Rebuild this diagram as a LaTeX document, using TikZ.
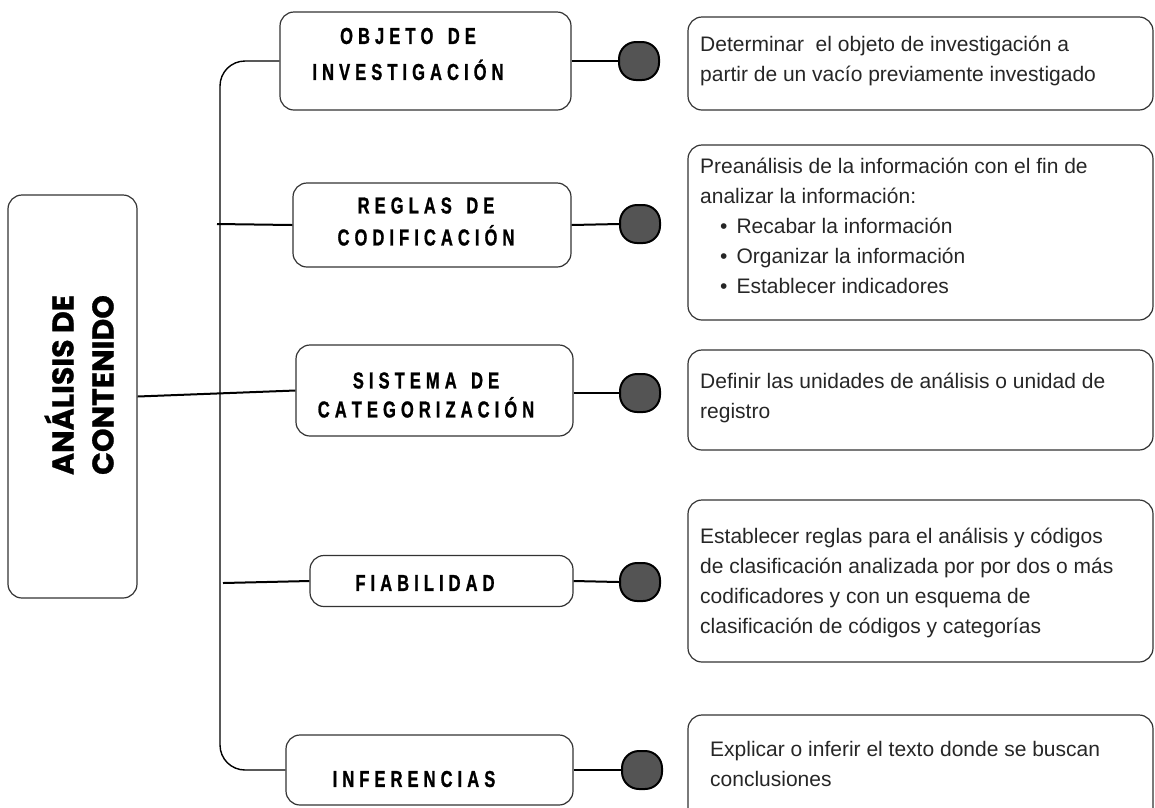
\documentclass[tikz,border=0pt]{standalone}
\usepackage{fontspec}
\usepackage{graphicx}
\setmainfont{Liberation Sans}
\newfontfamily\titlefont[BoldFeatures={FakeBold=1.2}]{Liberation Sans}
\newfontfamily\bigtitle[BoldFeatures={FakeBold=0.8}]{Poppins}
\ExplSyntaxOn
\NewDocumentCommand\spc{m}{\tl_map_inline:nn {#1} {##1\kern7pt}\unkern}
\ExplSyntaxOff
\newcommand\wsp{\hspace*{20pt}}
\newcommand\tl[1]{\scalebox{0.72}[1]{#1}}
\begin{document}
\begin{tikzpicture}[x=1pt,y=1pt,
  box/.style={draw=black!80, line width=1.2pt, rounded corners=14pt, inner sep=0pt},
  ttl/.style={font=\titlefont\bfseries\fontsize{23}{30}\selectfont, align=center, inner sep=0pt, text=black},
  body/.style={font=\fontsize{21}{30}\selectfont, align=left, anchor=north west, inner sep=0pt, text=black!85},
  dot/.style={draw=black, line width=2pt, fill=black!67, rounded corners=17pt, minimum width=40pt, minimum height=38pt, inner sep=0pt},
  conn/.style={line width=2pt, black},
  trunkline/.style={line width=1.4pt, black, rounded corners=25pt}]
\useasboundingbox (0,0) rectangle (1155,-807);

% main box
\node[box, minimum width=129pt, minimum height=403pt] (main) at (72.5,-396.5) {};
\node[rotate=90, font=\bigtitle\bfseries\fontsize{30}{40}\selectfont, align=center, inner sep=0pt] (maintxt) at (79,-385) {ANÁLISIS DE\\CONTENIDO};

% middle boxes
\node[box, minimum width=291pt, minimum height=98pt] (obj) at (425.5,-61) {};
\node[ttl] (objt) at (408,-54) {\tl{\spc{OBJETO}\wsp\spc{DE}}\\[6pt]\tl{\spc{INVESTIGACIÓN}}};

\node[box, minimum width=278pt, minimum height=84pt] (reg) at (432,-225) {};
\node[ttl] (regt) at (426,-221.5) {\tl{\spc{REGLAS}\wsp\spc{DE}}\\[2pt]\tl{\spc{CODIFICACIÓN}}};

\node[box, minimum width=277pt, minimum height=91pt] (sis) at (434.5,-390.5) {};
\node[ttl] (sist) at (426,-395) {\tl{\spc{SISTEMA}\wsp\spc{DE}}\\[-1pt]\tl{\spc{CATEGORIZACIÓN}}};

\node[box, minimum width=263pt, minimum height=51pt] (fia) at (441.5,-581) {};
\node[ttl] (fiat) at (425,-583) {\tl{\spc{FIABILIDAD}}};

\node[box, minimum width=287pt, minimum height=70pt] (inf) at (429.5,-770) {};
\node[ttl] (inft) at (414,-779) {\tl{\spc{INFERENCIAS}}};

% dots
\node[dot] (c1) at (639,-61) {};
\node[dot] (c2) at (640,-224) {};
\node[dot] (c3) at (640,-393) {};
\node[dot] (c4) at (640,-582) {};
\node[dot] (c5) at (642,-770) {};

% right boxes
\node[box, minimum width=465pt, minimum height=93pt] (ra) at (920.5,-63.5) {};
\node[body] (rat) at (700,-36) {Determinar\ \ el objeto de investigación a\\partir de un vacío previamente investigado};

\node[box, minimum width=465pt, minimum height=175pt] (rb) at (920.5,-232.5) {};
\node[body] (rbt) at (700,-158) {Preanálisis de la información con el fin de\\analizar la información:\\
\hspace*{20pt}\textbullet\hspace{9pt}Recabar la información\\
\hspace*{20pt}\textbullet\hspace{9pt}Organizar la información\\
\hspace*{20pt}\textbullet\hspace{9pt}Establecer indicadores};

\node[box, minimum width=465pt, minimum height=100pt] (rc) at (920.5,-400) {};
\node[body] (rct) at (700,-373) {Definir las unidades de análisis o unidad de\\registro};

\node[box, minimum width=465pt, minimum height=162pt] (rd) at (920.5,-581) {};
\node[body] (rdt) at (700,-528) {Establecer reglas para el análisis y códigos\\de clasificación analizada por por dos o más\\codificadores y con un esquema de\\clasificación de códigos y categorías};

\node[box, minimum width=465pt, minimum height=115pt] (re) at (920.5,-772.5) {};
\node[body] (ret) at (710,-741) {Explicar o inferir el texto donde se buscan\\conclusiones};

% connectors
\coordinate (trunk) at (220,0);
\draw[trunkline] (obj.west) -- (obj.west -| trunk) -- (inf.west -| trunk) -- (inf.west);
\coordinate (r0) at (217,-224);
\draw[conn] (r0) -- (reg.west);
\draw[conn] (main.east) -- (sis.west);
\coordinate (f0) at (223,-583);
\draw[conn] (f0) -- (fia.west);

\draw[conn] (obj.east) -- (c1.west);
\draw[conn] (reg.east) -- (c2.west);
\draw[conn] (sis.east |- c3) -- (c3.west);
\draw[conn] (fia.east) -- (c4.west);
\draw[conn] (inf.east) -- (c5.west);
\end{tikzpicture}
\end{document}
